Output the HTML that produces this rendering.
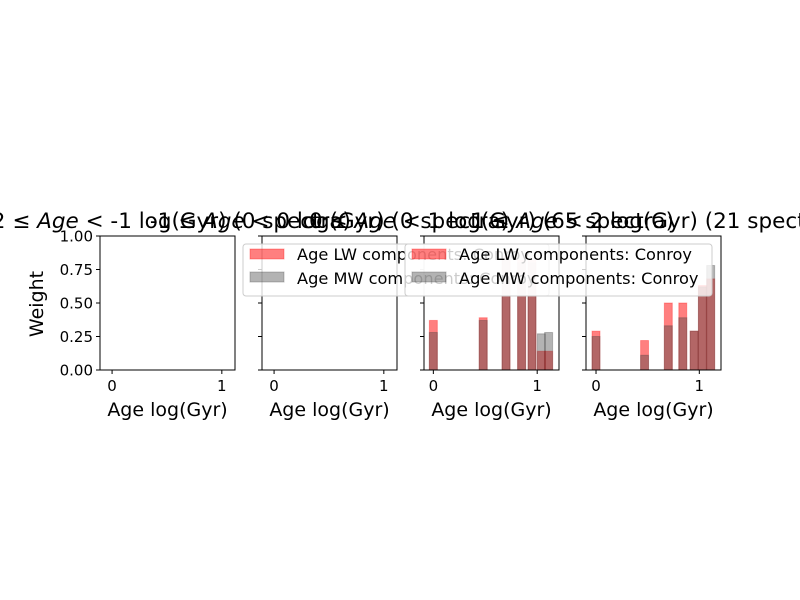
<!DOCTYPE html>
<html><head><meta charset="utf-8"><style>
body{margin:0;background:#fff}
svg{display:block;font-family:"DejaVu Sans","Liberation Sans",sans-serif}
</style></head><body>
<svg id="c" width="800" height="600" viewBox="0 0 800 600"></svg>
<script>
const panelTitlesPre=["-2 \u2264 ","-1 \u2264 ","0 \u2264 ","1 \u2264 "];
const panelTitlesPost=[" < -1 log(Gyr) (0 spectra)"," < 0 log(Gyr) (0 spectra)"," < 1 log(Gyr) (65 spectra)"," < 2 log(Gyr) (21 spectra)"];
const yTicks=[0,0.25,0.5,0.75,1.0];
const yTickLabels=["0.00","0.25","0.50","0.75","1.00"];
const xTicks=[0,1];
const p3Ages=[0.0,0.48,0.70,0.85,0.95,1.04,1.11];
const p3LW=[0.37,0.39,0.85,0.82,0.82,0.14,0.14];
const p3MW=[0.28,0.37,0.84,0.80,0.80,0.27,0.28];
const p4Ages=[0.0,0.47,0.70,0.84,0.95,1.03,1.11];
const p4LW=[0.29,0.22,0.50,0.50,0.29,0.63,0.68];
const p4MW=[0.25,0.11,0.33,0.39,0.29,0.62,0.78];
const barWidth=0.077;
const NS="http://www.w3.org/2000/svg";
const svg=document.getElementById('c');
function mk(t,a,p){const e=document.createElementNS(NS,t);for(const k in a)e.setAttribute(k,a[k]);(p||svg).appendChild(e);return e;}
const panels=[{x0:100,xmin:-0.11,xmax:1.12},{x0:262,xmin:-0.11,xmax:1.12},{x0:424,xmin:-0.09,xmax:1.21},{x0:586,xmin:-0.097,xmax:1.21}];
const PW=135,TOP=236,BOT=370;
function yS(v){return BOT-v*(BOT-TOP);}
panels.forEach((p,i)=>{
  const g=mk('g',{});
  
  
  const xS=v=>p.x0+(v-p.xmin)/(p.xmax-p.xmin)*PW;
  const data=i==2?[p3Ages,p3LW,p3MW]:i==3?[p4Ages,p4LW,p4MW]:null;
  if(data){
    data[0].forEach((a,j)=>{
      const x=xS(a-barWidth/2),w=xS(a+barWidth/2)-x;
      const r=mk('rect',{x:x,y:yS(data[1][j]),width:w,height:BOT-yS(data[1][j]),fill:'red','fill-opacity':0.5,stroke:'red','stroke-opacity':0.3},g);
      
      
      const m=mk('rect',{x:x,y:yS(data[2][j]),width:w,height:BOT-yS(data[2][j]),fill:'#404040','fill-opacity':0.4,stroke:'#404040','stroke-opacity':0.3},g);
      
      
    });
  }
  mk('rect',{x:p.x0,y:TOP,width:PW,height:BOT-TOP,fill:'none',stroke:'#000','stroke-width':1},g);
  xTicks.forEach(t=>{const x=xS(t);mk('line',{x1:x,x2:x,y1:BOT,y2:BOT+4,stroke:'#000'},g);
    const tx=mk('text',{x:x,y:BOT+21,'font-size':15,'text-anchor':'middle'},g);tx.textContent=t;
    });
  yTicks.forEach((t,k)=>{const y=yS(t);mk('line',{x1:p.x0-4,x2:p.x0,y1:y,y2:y,stroke:'#000'},g);
    if(i==0){const tx=mk('text',{x:p.x0-7,y:y+5.5,'font-size':15,'text-anchor':'end'},g);tx.textContent=yTickLabels[k];
    }});
  const xl=mk('text',{x:p.x0+PW/2,y:416,'font-size':19,'text-anchor':'middle'},g);xl.textContent='Age log(Gyr)';
  
  const tt=mk('text',{x:p.x0+PW/2,y:228,'font-size':21.5,'text-anchor':'middle'},g);
  
  mk('tspan',{},tt).textContent=panelTitlesPre[i];
  mk('tspan',{'font-style':'italic'},tt).textContent='Age';
  mk('tspan',{},tt).textContent=panelTitlesPost[i];
});
const yl=mk('text',{x:43,y:304,'font-size':19,'text-anchor':'middle',transform:'rotate(-90 43 304)'});yl.textContent='Weight';

function legend(x,w,n){
  const g=mk('g',{});
  
  
  mk('rect',{x:x,y:244,width:w,height:52,rx:3,fill:'#fff','fill-opacity':0.8,stroke:'#ccc'},g);
  mk('rect',{x:x+7,y:249,width:34,height:10,fill:'red','fill-opacity':0.5,stroke:'red','stroke-opacity':0.3},g);
  mk('rect',{x:x+7,y:272,width:34,height:10,fill:'#404040','fill-opacity':0.4,stroke:'#404040','stroke-opacity':0.3},g);
  const a=mk('text',{x:x+54,y:260,'font-size':16.2},g);a.textContent='Age LW components: Conroy';
  const b=mk('text',{x:x+54,y:284,'font-size':16.2},g);b.textContent='Age MW components: Conroy';
}
legend(243,306,1);
legend(405,307,2);
</script>
</body></html>
